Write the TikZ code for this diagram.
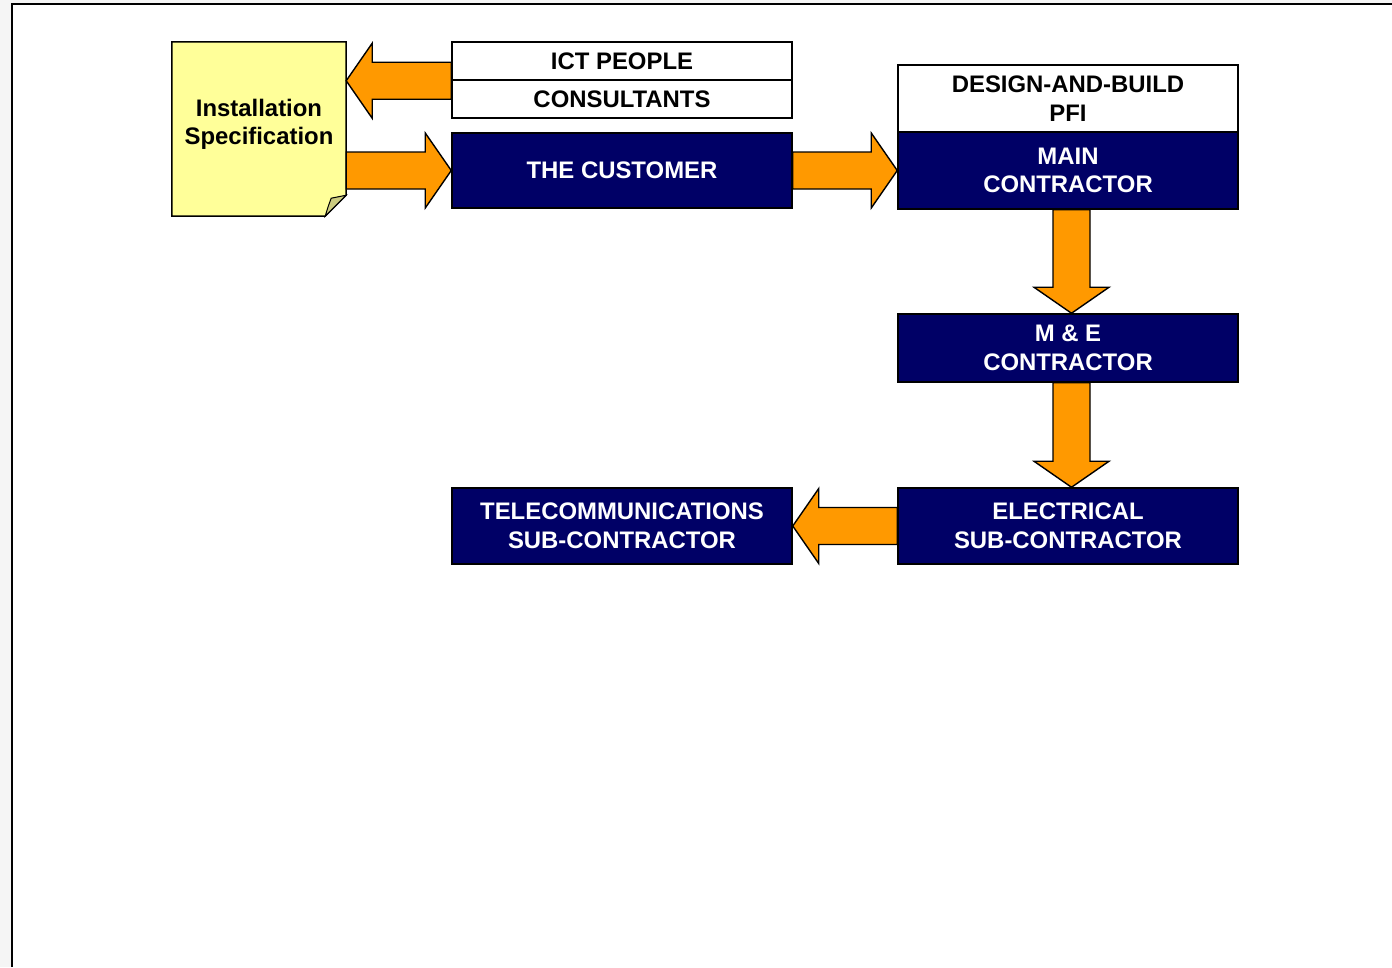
\documentclass[tikz,border=0pt]{standalone}
\usepackage{fontspec}
\setmainfont{Liberation Sans}
\usetikzlibrary{calc}
\definecolor{navy}{HTML}{000066}
\definecolor{arroworange}{HTML}{FF9900}
\definecolor{noteyellow}{HTML}{FFFF99}
\definecolor{notefold}{HTML}{CCCC80}
\definecolor{pagegray}{HTML}{F5F5F5}

\tikzset{
  box/.style={draw=black, line width=1.5pt, minimum width=340pt, inner sep=0pt,
    align=center, font=\bfseries\fontsize{23.9}{28.5}\selectfont},
  whitebox/.style={box, fill=white, text=black},
  navybox/.style={box, fill=navy, text=white},
  barrow/.style={fill=arroworange, draw=black, line width=1.4pt, line join=miter},
  notetext/.style={align=center, font=\bfseries\fontsize{23.9}{28.5}\selectfont, inner sep=0pt}
}

% block arrow from tail #1 to tip #2
\newcommand\blockarrow[2]{%
  \path coordinate (ba-base) at ($(#2)!26pt!(#1)$);
  \draw[barrow] ($(#1)!18.5pt!90:(#2)$) -- ($(ba-base)!18.5pt!90:(#2)$)
    -- ($(ba-base)!37.5pt!90:(#2)$) -- (#2)
    -- ($(ba-base)!37.5pt!-90:(#2)$) -- ($(ba-base)!18.5pt!-90:(#2)$)
    -- ($(#1)!18.5pt!-90:(#2)$) -- cycle;
}

\begin{document}
\begin{tikzpicture}[x=1pt, y=-1pt]
  \useasboundingbox (0,0) rectangle (1392,967);
  % page frame
  \fill[pagegray] (0,0) rectangle (1392,967);
  \fill[white] (12,4) rectangle (1392,967);
  \draw[line width=2pt] (12,967) -- (12,4) -- (1392,4);

  % installation specification note
  \node[minimum width=174pt, minimum height=174pt, inner sep=0pt] (note) at (259,129) {};
  \draw[fill=noteyellow, line width=1.5pt]
    (note.north west) -- (note.north east) -- ($(note.south east)+(0,-21)$)
    -- ($(note.south east)+(-21,0)$) -- (note.south west) -- cycle;
  \draw[fill=notefold, line width=1pt]
    ($(note.south east)+(-21,0)$) .. controls ($(note.south east)+(-18,-10)$) .. ($(note.south east)+(-15,-18)$)
    -- ($(note.south east)+(0,-21)$) -- cycle;
  \node[notetext] (notelabel) at (259,124.5) {Installation\\Specification};

  % left column
  \node[whitebox, minimum height=38pt] (ict) at (622,61) {ICT PEOPLE};
  \node[whitebox, minimum height=38pt] (cons) at (622,99) {CONSULTANTS};
  \node[navybox, minimum height=75pt] (cust) at (622,170.5) {THE CUSTOMER};
  \node[navybox, minimum height=76pt] (tele) at (622,526) {TELECOMMUNICATIONS\\SUB-CONTRACTOR};

  % right column
  \node[whitebox, minimum height=67pt] (dbpfi) at (1068,98.5) {DESIGN-AND-BUILD\\PFI};
  \node[navybox, minimum height=77pt] (main) at (1068,170.5) {MAIN\\CONTRACTOR};
  \node[navybox, minimum height=68pt] (me) at (1068,348) {M \& E\\CONTRACTOR};
  \node[navybox, minimum height=76pt] (elec) at (1068,526) {ELECTRICAL\\SUB-CONTRACTOR};

  % flows
  \blockarrow{ict.south west}{note.east |- ict.south west}
  \blockarrow{note.east |- cust.west}{cust.west}
  \blockarrow{cust.east}{main.west |- cust.east}
  \blockarrow{$(main.south)+(3.5,0)$}{$(me.north)+(3.5,0)$}
  \blockarrow{$(me.south)+(3.5,0)$}{$(elec.north)+(3.5,0)$}
  \blockarrow{elec.west}{tele.east}
\end{tikzpicture}
\end{document}
